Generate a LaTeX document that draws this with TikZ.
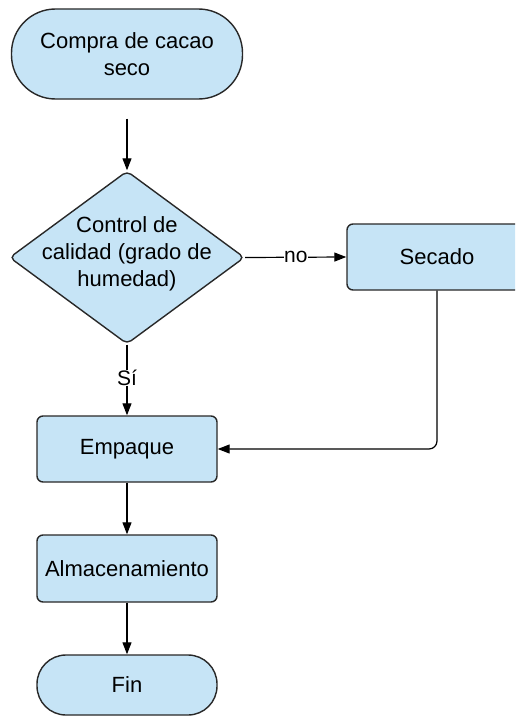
\documentclass[tikz,border=0pt]{standalone}
\usepackage{fontspec}
\setmainfont{Liberation Sans}
\usetikzlibrary{shapes.geometric,arrows.meta}
\definecolor{boxfill}{RGB}{198,228,246}
\definecolor{edgecol}{RGB}{40,40,40}
\begin{document}
\begin{tikzpicture}[x=1pt,y=-1pt,
  every node/.style={font=\fontsize{22}{27}\selectfont, text=black},
  shapebase/.style={draw=edgecol, line width=1.4pt, fill=boxfill, inner sep=0pt, align=center},
  procbox/.style={shapebase, rounded corners=6pt, minimum width=180pt, minimum height=66pt},
  termbox/.style={shapebase, rectangle},
  decbox/.style={shapebase, diamond, rounded corners=5pt, minimum width=235pt, minimum height=173pt},
  arr/.style={draw=black, line width=1.2pt, -{Triangle[length=12pt,width=9pt]}},
  lbl/.style={fill=white, inner sep=0.5pt, font=\fontsize{21}{25}\selectfont}
]
\useasboundingbox (0,0) rectangle (515,717);
\fill[white] (0,0) rectangle (515,717);
\clip (0,0) rectangle (515,717);

\node[termbox, rounded corners=44pt, minimum width=231pt, minimum height=90pt] (start) at (127,54) {Compra de cacao\\seco};
\node[decbox] (dec) at (127,257.5) {};
\node[align=center] (dectext) at (127,254) {Control de\\calidad (grado de\\humedad)};
\node[procbox] (sec) at (437,257) {Secado};
\node[procbox] (emp) at (127,449) {Empaque};
\node[procbox, minimum height=67pt] (alm) at (127,568.5) {Almacenamiento};
\node[termbox, rounded corners=29pt, minimum width=180pt, minimum height=60pt] (fin) at (127,685) {Fin};

\draw[arr, shorten <=19pt] (start) -- (dec);
\draw[arr] (dec.east) -- node[lbl] (no) {no} (sec.west);
\draw[arr] (dec.south) -- node[lbl, pos=0.47] (si) {Sí} (emp.north);
\draw[arr, rounded corners=8pt] (sec.south) |- (emp.east);
\draw[arr] (emp) -- (alm);
\draw[arr] (alm) -- (fin);
\end{tikzpicture}
\end{document}
